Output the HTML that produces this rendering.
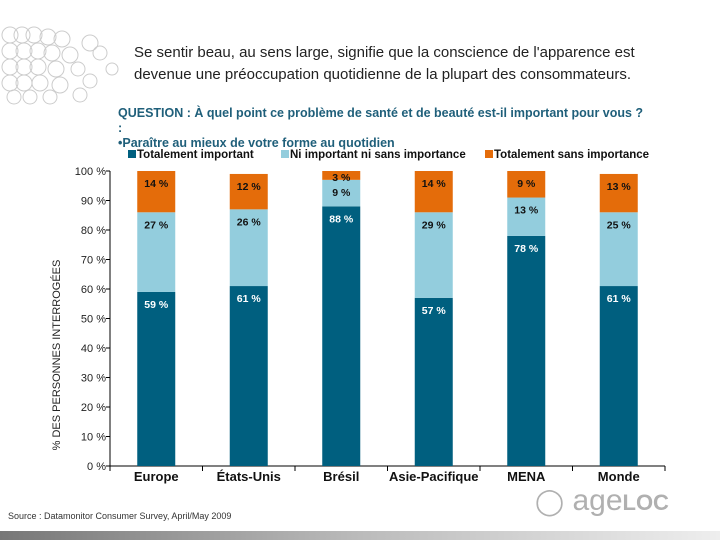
<!DOCTYPE html>
<html><head><meta charset="utf-8"><style>
body{margin:0;width:720px;height:540px;overflow:hidden;background:#fff;font-family:"Liberation Sans",sans-serif;position:relative}
.t{position:absolute;white-space:nowrap}
</style></head><body>
<svg width="120" height="80" style="position:absolute;left:0;top:25px">
<g fill="none" stroke="#ccc" stroke-width="1">
<circle cx="10" cy="10" r="8"/><circle cx="22" cy="10" r="8"/><circle cx="34" cy="10" r="8"/><circle cx="48" cy="12" r="8"/><circle cx="62" cy="14" r="8"/><circle cx="90" cy="18" r="8"/>
<circle cx="10" cy="26" r="8"/><circle cx="24" cy="26" r="8"/><circle cx="38" cy="26" r="8"/><circle cx="52" cy="28" r="8"/><circle cx="70" cy="30" r="8"/><circle cx="100" cy="28" r="7"/>
<circle cx="10" cy="42" r="8"/><circle cx="24" cy="42" r="8"/><circle cx="38" cy="42" r="8"/><circle cx="56" cy="44" r="8"/><circle cx="78" cy="44" r="7"/><circle cx="112" cy="44" r="6"/>
<circle cx="10" cy="58" r="8"/><circle cx="24" cy="58" r="8"/><circle cx="40" cy="58" r="8"/><circle cx="60" cy="60" r="8"/><circle cx="90" cy="56" r="7"/>
<circle cx="14" cy="72" r="7"/><circle cx="30" cy="72" r="7"/><circle cx="50" cy="72" r="7"/><circle cx="80" cy="70" r="7"/>
</g></svg>
<div class="t" style="left:134px;top:42px;font-size:15px;line-height:22px;color:#222">Se sentir beau, au sens large, signifie que la conscience de l'apparence est<br>devenue une préoccupation quotidienne de la plupart des consommateurs.</div>
<div class="t" style="left:118px;top:106px;font-size:12.5px;line-height:15px;font-weight:bold;color:#1f5f7a">QUESTION : À quel point ce problème de santé et de beauté est-il important pour vous ?<br>:<br>•Paraître au mieux de votre forme au quotidien</div>
<svg id="c" width="720" height="540" style="position:absolute;left:0;top:0" font-family="Liberation Sans, sans-serif"></svg>
<div class="t" style="left:8px;top:511px;font-size:9px;color:#333">Source : Datamonitor Consumer Survey, April/May 2009</div>
<div style="position:absolute;left:0;top:531px;width:720px;height:9px;background:linear-gradient(90deg,#777,#bbb 50%,#eee)"></div>
<div class="t" style="left:535px;top:484px;font-size:30px;color:#b0b0b0"><span style="font-size:26px">◯</span> age<b style="font-size:22px">LOC</b></div>
<script>
const categories=["Europe","États-Unis","Brésil","Asie-Pacifique","MENA","Monde"];
const totalImportant=[59,61,88,57,78,61];
const neutral=[27,26,9,29,13,25];
const notImportant=[14,12,3,14,9,13];
const yTicks=[0,10,20,30,40,50,60,70,80,90,100];
const svg=document.getElementById('c');const NS='http://www.w3.org/2000/svg';
function mk(t,a,p){const e=document.createElementNS(NS,t);for(const k in a)e.setAttribute(k,a[k]);(p||svg).appendChild(e);return e;}
const x0=110,x1=665,y0=466,y100=171;
const y=v=>y0-(v/100)*(y0-y100);
const bw=(x1-x0)/categories.length;
const cx=i=>x0+bw*(i+0.5);
const ax=mk('line',{x1:x0,y1:y100,x2:x0,y2:y0,stroke:'#000'});


const bx=mk('line',{x1:x0,y1:y0,x2:x1,y2:y0,stroke:'#000'});


yTicks.forEach(v=>{
 mk('line',{x1:x0-4,y1:y(v),x2:x0,y2:y(v),stroke:'#000'});
 const t=mk('text',{x:x0-4,y:y(v)+4,'text-anchor':'end','font-size':11,fill:'#222'});t.textContent=v+' %';
 
 
});
for(let i=0;i<=categories.length;i++)mk('line',{x1:x0+bw*i,y1:y0,x2:x0+bw*i,y2:y0+5,stroke:'#000'});
const yt=mk('text',{transform:'translate(60,355) rotate(-90)','text-anchor':'middle','font-size':11,fill:'#222'});yt.textContent='% DES PERSONNES INTERROGÉES';


const cols=['#005f7f','#93cddd','#e46c0a'];
const tcol=['#fff','#111','#111'];
categories.forEach((c,i)=>{
 const vals=[totalImportant[i],neutral[i],notImportant[i]];let base=0;
 vals.forEach((v,k)=>{
  const r=mk('rect',{x:cx(i)-19,y:y(base+v),width:38,height:y(base)-y(base+v),fill:cols[k]});
  
  
  const ty=v<5?y(base+v)+10:y(base+v)+16;
  const t=mk('text',{x:cx(i),y:ty,'text-anchor':'middle','font-size':10.5,'font-weight':'bold',fill:tcol[k]});t.textContent=v+' %';
  
  
  base+=v;
 });
 const l=mk('text',{x:cx(i),y:y0+15,'text-anchor':'middle','font-size':13,'font-weight':'bold',fill:'#111'});l.textContent=c;
 
 
});
const leg=[['Totalement important',128],['Ni important ni sans importance',281],['Totalement sans importance',485]];
leg.forEach((d,k)=>{
 mk('rect',{x:d[1],y:150,width:8,height:8,fill:cols[k]});
 const t=mk('text',{x:d[1]+9,y:158,'font-size':11.5,'font-weight':'bold',fill:'#111'});t.textContent=d[0];
 
 
});
</script>
</body></html>
